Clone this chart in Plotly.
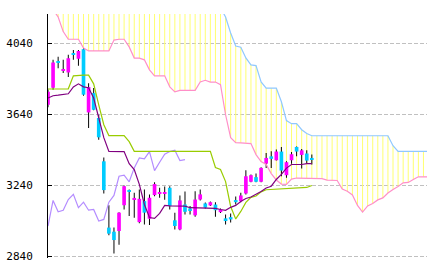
import plotly.graph_objects as go

# ---- candle data (index 0..52) ----
opens  = [3694, 3790, 3938, 3885, 3876, 3984, 3953, 4007, 3651, 3760,
          3620, 3376, 3003, 2980, 2984, 3129, 3213, 3161, 3034, 3152,
          3053, 3186, 3196, 3196, 3227, 3044, 2993, 3133, 3111, 3072,
          3161, 3139, 3128, 3133, 3090, 3055, 3062, 3158, 3152, 3195,
          3261, 3287, 3261, 3363, 3404, 3382, 3431, 3298, 3382, 3457,
          3412, 3420, 3395]
highs  = [3780, 3947, 3965, 3947, 3975, 4003, 4003, 4014, 3816, 3788,
          3638, 3397, 3129, 3003, 3090, 3240, 3218, 3199, 3218, 3218,
          3190, 3258, 3227, 3235, 3236, 3087, 3184, 3206, 3124, 3208,
          3218, 3145, 3150, 3146, 3110, 3077, 3083, 3178, 3199, 3326,
          3302, 3307, 3342, 3423, 3432, 3442, 3457, 3376, 3429, 3460,
          3446, 3438, 3414]
lows   = [3680, 3779, 3900, 3873, 3850, 3947, 3914, 3745, 3564, 3664,
          3498, 3195, 2960, 2857, 2907, 3105, 3068, 3059, 3027, 3021,
          3017, 3180, 3171, 3160, 3105, 2993, 2988, 3077, 3077, 3064,
          3156, 3110, 3124, 3064, 3085, 3021, 3032, 3133, 3146, 3190,
          3258, 3258, 3258, 3339, 3339, 3380, 3292, 3283, 3363, 3404,
          3335, 3367, 3358]
closes = [3767, 3932, 3930, 3894, 3956, 3975, 3997, 3751, 3794, 3666,
          3511, 3214, 2969, 2933, 3087, 3236, 3204, 3170, 3165, 3087,
          3171, 3248, 3201, 3201, 3124, 3012, 3156, 3092, 3100, 3161,
          3190, 3115, 3146, 3101, 3105, 3040, 3049, 3146, 3184, 3292,
          3298, 3261, 3339, 3395, 3390, 3431, 3324, 3371, 3416, 3431,
          3438, 3380, 3386]

# ---- ichimoku lines ----
tenkan = [3732, 3745, 3748, 3750, 3756, 3795, 3812, 3795, 3790, 3732,
          3616, 3509, 3432, 3432, 3432, 3431, 3363, 3330, 3246, 3133,
          3060, 3055, 3083, 3128, 3125, 3124, 3124, 3124, 3115, 3114,
          3114, 3111, 3111, 3111, 3105, 3100, 3117, 3128, 3150, 3167,
          3175, 3190, 3206, 3226, 3236, 3274, 3302, 3338, 3358, 3358,
          3358, 3363, 3363]
kijun  = [3783, 3783, 3783, 3783, 3784, 3857, 3861, 3861, 3861, 3812,
          3694, 3582, 3521, 3521, 3521, 3521, 3487, 3432, 3432, 3432,
          3432, 3432, 3432, 3432, 3432, 3432, 3432, 3432, 3432, 3432,
          3432, 3432, 3432, 3341, 3330, 3262, 3122, 3052, 3094, 3145,
          3173, 3181, 3204, 3216, 3218, 3220, 3221, 3221, 3223, 3225,
          3226, 3229, 3240]
span_pink = [4260, 4230, 4188, 4106, 4063, 4063, 4063, 4014, 3997, 3997,
             3997, 3997, 3997, 4058, 4063, 4063, 4020, 3957, 3957, 3947,
             3891, 3857, 3857, 3857, 3795, 3767, 3775, 3775, 3775, 3775,
             3823, 3832, 3822, 3822, 3807, 3638, 3509, 3481, 3480, 3480,
             3476, 3414, 3375, 3358, 3307, 3271, 3248, 3246, 3276, 3282,
             3281, 3281, 3281, 3281, 3279, 3270, 3268, 3268, 3220, 3208,
             3187, 3128, 3090, 3125, 3139, 3159, 3170, 3198, 3218, 3234,
             3255, 3257, 3274, 3289, 3289, 3289]
span_blue = [4330, 4330, 4330, 4330, 4330, 4330, 4330, 4330, 4330, 4330,
             4320, 4320, 4320, 4320, 4320, 4310, 4310, 4310, 4310, 4300,
             4300, 4300, 4300, 4290, 4290, 4290, 4280, 4280, 4280, 4270,
             4270, 4260, 4260, 4250, 4240, 4188, 4098, 4025, 4018, 3958,
             3919, 3915, 3823, 3788, 3788, 3788, 3711, 3605, 3588, 3588,
             3554, 3532, 3520, 3520, 3520, 3520, 3520, 3520, 3520, 3520,
             3520, 3520, 3520, 3520, 3520, 3520, 3520, 3520, 3464, 3432,
             3432, 3432, 3432, 3432, 3432, 3432]
chikou_shift = 25

ytick_vals = [2840, 3240, 3640, 4040]
ytick_text = ["2840", "3240", "3640", "4040"]

UP = "#ff00ff"
DOWN = "#00ccff"

n = len(closes)
xs = list(range(n))
xs_span = list(range(len(span_pink)))

fig = go.Figure()

# cloud (vertical yellow lines between spans)
fig.add_trace(go.Bar(
    x=xs_span,
    base=[min(a, b) for a, b in zip(span_pink, span_blue)],
    y=[abs(a - b) for a, b in zip(span_pink, span_blue)],
    width=0.196, marker=dict(color="rgba(255,255,110,0.99)", line=dict(width=0)),
    hoverinfo="skip"))

# wicks
fig.add_trace(go.Bar(
    x=xs, base=lows, y=[h - l for h, l in zip(highs, lows)],
    width=0.196, marker=dict(color="rgba(0,0,0,0.99)", line=dict(width=0)),
    hoverinfo="skip"))

# bodies
fig.add_trace(go.Bar(
    x=xs, base=[min(o, c) for o, c in zip(opens, closes)],
    y=[abs(c - o) for o, c in zip(opens, closes)],
    width=0.72,
    marker=dict(color=[UP if c >= o else DOWN for o, c in zip(opens, closes)],
                line=dict(width=0)),
    hoverinfo="skip"))

# spans
fig.add_trace(go.Scatter(x=xs_span, y=span_pink, mode="lines",
                         line=dict(color="#ff8fc8", width=1.2)))
fig.add_trace(go.Scatter(x=xs_span, y=span_blue, mode="lines",
                         line=dict(color="#8fc8ff", width=1.2)))
# chikou
fig.add_trace(go.Scatter(x=list(range(n - chikou_shift)), y=closes[chikou_shift:],
                         mode="lines", line=dict(color="#b48cff", width=1.2)))
# kijun / tenkan
fig.add_trace(go.Scatter(x=xs, y=kijun, mode="lines",
                         line=dict(color="#99cc00", width=1.2)))
fig.add_trace(go.Scatter(x=xs, y=tenkan, mode="lines",
                         line=dict(color="#800080", width=1.2)))

fig.update_layout(
    width=433, height=271,
    margin=dict(l=45, r=6, t=14, b=13),
    paper_bgcolor="white", plot_bgcolor="white",
    barmode="overlay", showlegend=False,
    xaxis=dict(range=[0, 74.7], visible=False),
    yaxis=dict(range=[2832, 4205], tickvals=ytick_vals, ticktext=ytick_text,
               showgrid=True, gridcolor="#c0c0c0", gridwidth=1, griddash="4px,2px",
               showline=True, linecolor="black", linewidth=1,
               ticks="inside", ticklen=4, tickcolor="black", tickwidth=1,
               tickfont=dict(family="DejaVu Sans Mono", size=11, color="black"),
               ticklabelstandoff=12, zeroline=False),
)

fig.write_html("out.html")
